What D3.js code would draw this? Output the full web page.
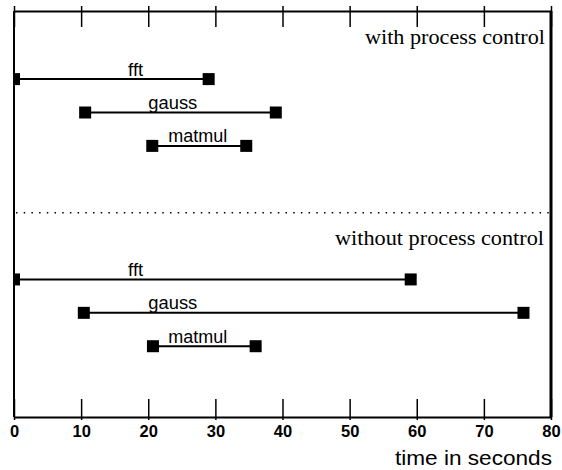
<!DOCTYPE html>
<html>
<head>
<meta charset="utf-8">
<script src="https://cdn.jsdelivr.net/npm/d3@7"></script>
<style>
  body { margin: 0; background: #fff; }
  svg { display: block; }
</style>
</head>
<body>
<svg id="chart" width="562" height="470"></svg>
<script>
// task names and start / end times (seconds)
var tasks = ["fft", "gauss", "matmul"]
var withStart = [0, 10.6, 20.6]
var withEnd = [29, 39, 34.6]
var withoutStart = [0, 10.4, 20.7]
var withoutEnd = [59.1, 75.9, 36]
var xTicks = [0, 10, 20, 30, 40, 50, 60, 70, 80]
var sections = ["with process control", "without process control"]

let svgWidth = 562
let svgHeight = 470

var svg = d3.select("#chart")

var x = d3.scaleLinear().domain([0, 80]).range([14, 551])
// rows: top group 0..2, separator at 4, bottom group 6..8
var y = d3.scaleLinear().domain([-2.04, 10.12]).range([11, 417])

var labelAt = [17, 20, 23]   // where each task name starts (seconds)
var labelWidth = [15, 49, 59]

svg.append("clipPath").attr("id", "plot")
    .append("rect")
    .attr("x", x(0)).attr("y", y(-2.04))
    .attr("width", x(80) - x(0)).attr("height", y(10.12) - y(-2.04))

// top axis, ticks only
var topAxis = svg.append("g")
    .attr("transform", "translate(0," + y(-2.04) + ")")
    .call(d3.axisTop(x).tickValues(xTicks).tickSizeInner(-16).tickSizeOuter(0).tickFormat(""))
topAxis.selectAll(".tick line").attr("y1", -5).attr("stroke-width", 1.5)
topAxis.select(".domain").attr("stroke-width", 2)

// bottom axis
var bottomAxis = svg.append("g")
    .attr("transform", "translate(0," + y(10.12) + ")")
    .call(d3.axisBottom(x).tickValues(xTicks).tickSizeInner(-18).tickSizeOuter(0).tickPadding(0))
bottomAxis.selectAll(".tick line").attr("y1", 3).attr("stroke-width", 1.5)
bottomAxis.select(".domain").attr("stroke-width", 2)
bottomAxis.selectAll(".tick text")
    .attr("y", 20)
    .attr("dy", null)
    .attr("font-family", "Liberation Sans, Arial, sans-serif")
    .attr("font-weight", "bold")
    .attr("font-size", 16.5)
    .attr("fill", "#000")

// side frame lines
svg.append("line")
    .attr("x1", x(0)).attr("x2", x(0))
    .attr("y1", y(-2.04)).attr("y2", y(10.12))
    .attr("stroke", "#000").attr("stroke-width", 2)
svg.append("line")
    .attr("x1", x(80)).attr("x2", x(80))
    .attr("y1", y(-2.04)).attr("y2", y(10.12))
    .attr("stroke", "#000").attr("stroke-width", 3)

// dotted separator
svg.append("line")
    .attr("x1", x(0) + 2).attr("x2", x(80))
    .attr("y1", y(4)).attr("y2", y(4))
    .attr("stroke", "#000").attr("stroke-width", 1.5)
    .attr("stroke-dasharray", "1.5 6.2")

// section titles
svg.selectAll("text.section").data(sections).enter()
    .append("text")
    .attr("class", "section")
    .attr("x", (d, i) => i == 0 ? 545 : 544)
    .attr("y", (d, i) => i == 0 ? 44 : 245)
    .attr("text-anchor", "end")
    .attr("font-family", "Liberation Serif, Times New Roman, serif")
    .attr("font-size", 20)
    .attr("textLength", (d, i) => i == 0 ? 180 : 209)
    .attr("lengthAdjust", "spacingAndGlyphs")
    .text(d => d)

function drawGroup(starts, ends, row0) {
    var g = svg.append("g").attr("clip-path", "url(#plot)")
    var rows = tasks.map((t, i) => ({name: t, s: starts[i], e: ends[i], row: row0 + i, i: i}))

    g.selectAll("line.span").data(rows).enter()
        .append("line")
        .attr("class", "span")
        .attr("x1", d => x(d.s)).attr("x2", d => x(d.e))
        .attr("y1", d => y(d.row)).attr("y2", d => y(d.row))
        .attr("stroke", "#000").attr("stroke-width", 2)

    var ends2 = []
    rows.forEach(d => { ends2.push({v: d.s, row: d.row}); ends2.push({v: d.e, row: d.row}) })
    g.selectAll("rect.mark").data(ends2).enter()
        .append("rect")
        .attr("class", "mark")
        .attr("x", d => x(d.v) - 6).attr("y", d => y(d.row) - 6)
        .attr("width", 12).attr("height", 12)
        .attr("fill", "#000")

    svg.selectAll(null).data(rows).enter()
        .append("text")
        .attr("x", d => x(labelAt[d.i]))
        .attr("y", d => y(d.row) - 3.5)
        .attr("font-family", "Liberation Sans, Arial, sans-serif")
        .attr("font-size", 17.5)
        .attr("textLength", d => labelWidth[d.i])
        .attr("lengthAdjust", "spacingAndGlyphs")
        .text(d => d.name)
}

drawGroup(withStart, withEnd, 0)
drawGroup(withoutStart, withoutEnd, 6)

// axis title
svg.append("text")
    .attr("x", 552).attr("y", 465)
    .attr("text-anchor", "end")
    .attr("font-family", "Liberation Sans, Arial, sans-serif")
    .attr("font-size", 20)
    .attr("textLength", 157)
    .attr("lengthAdjust", "spacingAndGlyphs")
    .text("time in seconds")
</script>
</body>
</html>
